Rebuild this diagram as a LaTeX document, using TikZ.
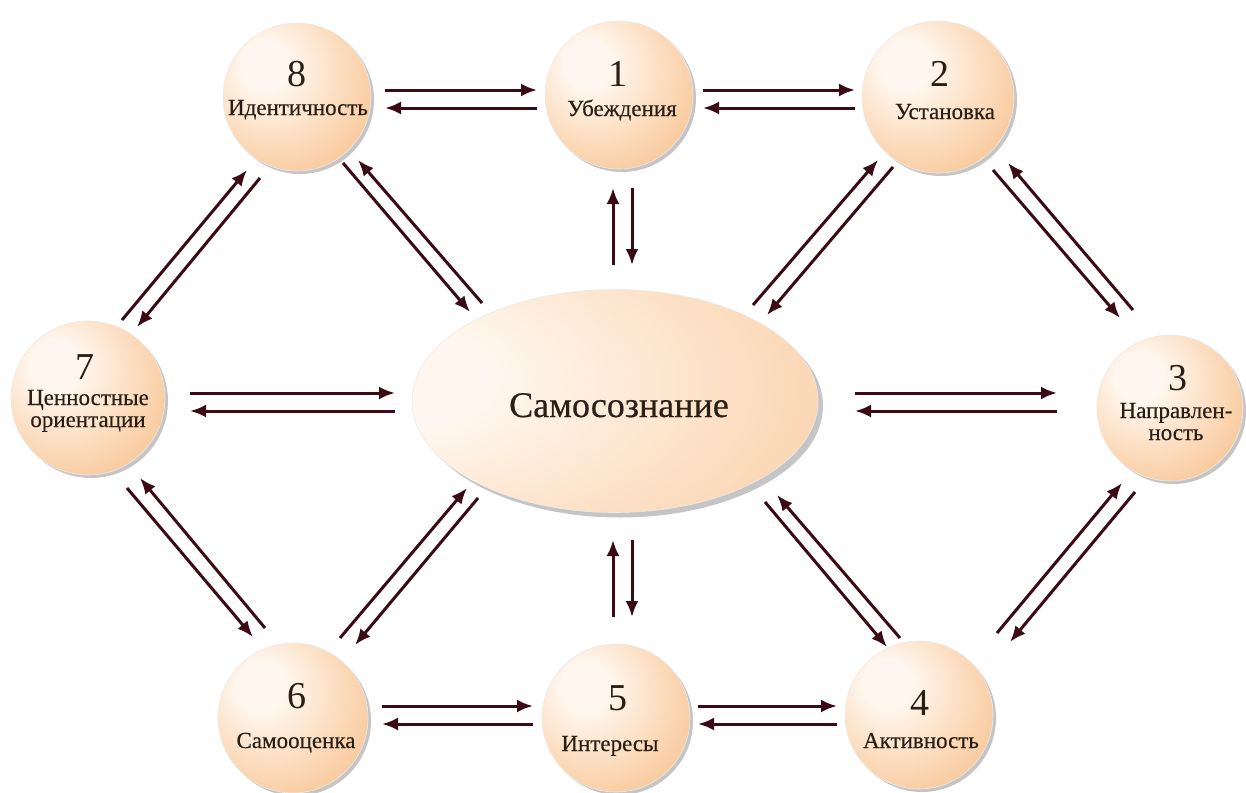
\documentclass[tikz,border=0pt]{standalone}
\usepackage{fontspec}
\setmainfont{Liberation Serif}
\newfontfamily\heavy[FakeBold=0.4]{Liberation Serif}
\usetikzlibrary{shapes.geometric,shadows,arrows.meta}
\definecolor{pin}{HTML}{FFF7EF}
\definecolor{pmid}{HTML}{FBD8B6}
\definecolor{pout}{HTML}{F5BA82}
\definecolor{pdeep}{HTML}{EEA868}
\definecolor{arrc}{HTML}{3C0A14}
\definecolor{txtc}{HTML}{2A1F17}
\pgfdeclareradialshading{peachball}{\pgfpoint{-12bp}{12bp}}{color(0bp)=(pin); color(8bp)=(pin); color(26bp)=(pmid); color(44bp)=(pout); color(70bp)=(pdeep)}
\pgfdeclareradialshading{peachell}{\pgfpoint{-32bp}{6bp}}{color(0bp)=(pin); color(12bp)=(pin); color(42bp)=(pmid); color(70bp)=(pout); color(95bp)=(pdeep)}
\tikzset{
  ball/.style={circle, minimum size=#1, inner sep=0pt, shading=peachball,
    draw=black!8, line width=0.6pt,
    drop shadow={shadow xshift=3pt, shadow yshift=-3pt, opacity=0.45, fill=gray}},
  bigell/.style={ellipse, minimum width=406pt, minimum height=223pt, inner sep=0pt, shading=peachell,
    draw=black!8, line width=0.6pt,
    drop shadow={shadow xshift=5pt, shadow yshift=-5pt, opacity=0.45, fill=gray}},
  digit/.style={anchor=base, inner sep=0pt, text=txtc, font=\fontsize{38}{40}\selectfont},
  lbl/.style={anchor=base, inner sep=0pt, text=txtc, font=\heavy\fontsize{23}{25}\selectfont},
  arr/.style={draw=arrc, line width=3pt, -{Latex[length=16pt,width=13pt]}},
}
\newcommand\link[4]{\draw[arr] ([shift={#2}]#1.center) -- ([shift={#4}]#3.center);}
\begin{document}
\begin{tikzpicture}[x=1pt,y=-1pt]
\useasboundingbox[fill=white] (0,0) rectangle (1246,792);
% nodes
\node[bigell] (c) at (615,401) {};
\node[ball=148pt] (n8) at (297,97) {};
\node[ball=148pt] (n1) at (619,95) {};
\node[ball=152pt] (n2) at (938,97) {};
\node[ball=146pt] (n3) at (1170,408) {};
\node[ball=148pt] (n4) at (919,715) {};
\node[ball=148pt] (n5) at (616,718) {};
\node[ball=150pt] (n6) at (293,718) {};
\node[ball=154pt] (n7) at (88,398) {};
% texts
\node[lbl, font=\heavy\fontsize{36}{38}\selectfont] (tc) at (619,417) {Самосознание};
\node[digit] (d8) at (297,86) {8};
\node[lbl] (l8) at (298,115) {Идентичность};
\node[digit] (d1) at (618,86) {1};
\node[lbl] (l1) at (622,116) {Убеждения};
\node[digit] (d2) at (940,86) {2};
\node[lbl] (l2) at (945,119) {Установка};
\node[digit] (d3) at (1178,390) {3};
\node[lbl] (l3a) at (1176,418) {Направлен-};
\node[lbl] (l3b) at (1176,440) {ность};
\node[digit] (d4) at (920,715) {4};
\node[lbl] (l4) at (921,748) {Активность};
\node[digit] (d5) at (618,710) {5};
\node[lbl] (l5) at (610,751) {Интересы};
\node[digit] (d6) at (297,708) {6};
\node[lbl] (l6) at (296,748) {Самооценка};
\node[digit] (d7) at (85,379) {7};
\node[lbl] (l7a) at (88,405) {Ценностные};
\node[lbl] (l7b) at (88,427) {ориентации};
% horizontal connectors
\link{n8}{(88,-7)}{n1}{(-82,-5)}
\link{n1}{(-82,13)}{n8}{(88,11)}
\link{n1}{(84,-5)}{n2}{(-83,-7)}
\link{n2}{(-83,11)}{n1}{(84,13)}
\link{n7}{(102,-5)}{c}{(-220,-8)}
\link{c}{(-220,10)}{n7}{(102,13)}
\link{c}{(240,-8)}{n3}{(-113,-15)}
\link{n3}{(-113,3)}{c}{(240,10)}
\link{n6}{(89,-12)}{n5}{(-83,-12)}
\link{n5}{(-83,6)}{n6}{(89,6)}
\link{n5}{(82,-12)}{n4}{(-82,-9)}
\link{n4}{(-82,9)}{n5}{(82,6)}
% vertical connectors
\link{c}{(-2,-136)}{n1}{(-6,93)}
\link{n1}{(13,93)}{c}{(17,-136)}
\link{n5}{(-3,-101)}{c}{(-2,139)}
\link{c}{(17,139)}{n5}{(16,-101)}
% diagonal connectors
\link{n7}{(34,-78)}{n8}{(-50,73)}
\link{n8}{(-37,81)}{n7}{(49,-71)}
\link{c}{(-133,-98)}{n8}{(61,63)}
\link{n8}{(46,66)}{c}{(-145,-89)}
\link{c}{(138,-96)}{n2}{(-60,63)}
\link{n2}{(-45,70)}{c}{(152,-86)}
\link{n3}{(-37,-98)}{n2}{(70,66)}
\link{n2}{(55,73)}{n3}{(-50,-90)}
\link{n6}{(-28,-90)}{n7}{(52,80)}
\link{n7}{(39,90)}{n6}{(-40,-81)}
\link{n6}{(47,-80)}{c}{(-148,87)}
\link{c}{(-137,97)}{n6}{(62,-73)}
\link{n4}{(-19,-77)}{c}{(162,94)}
\link{c}{(150,101)}{n4}{(-32,-68)}
\link{n4}{(78,-82)}{n3}{(-48,75)}
\link{n3}{(-35,84)}{n4}{(91,-73)}
\end{tikzpicture}
\end{document}
